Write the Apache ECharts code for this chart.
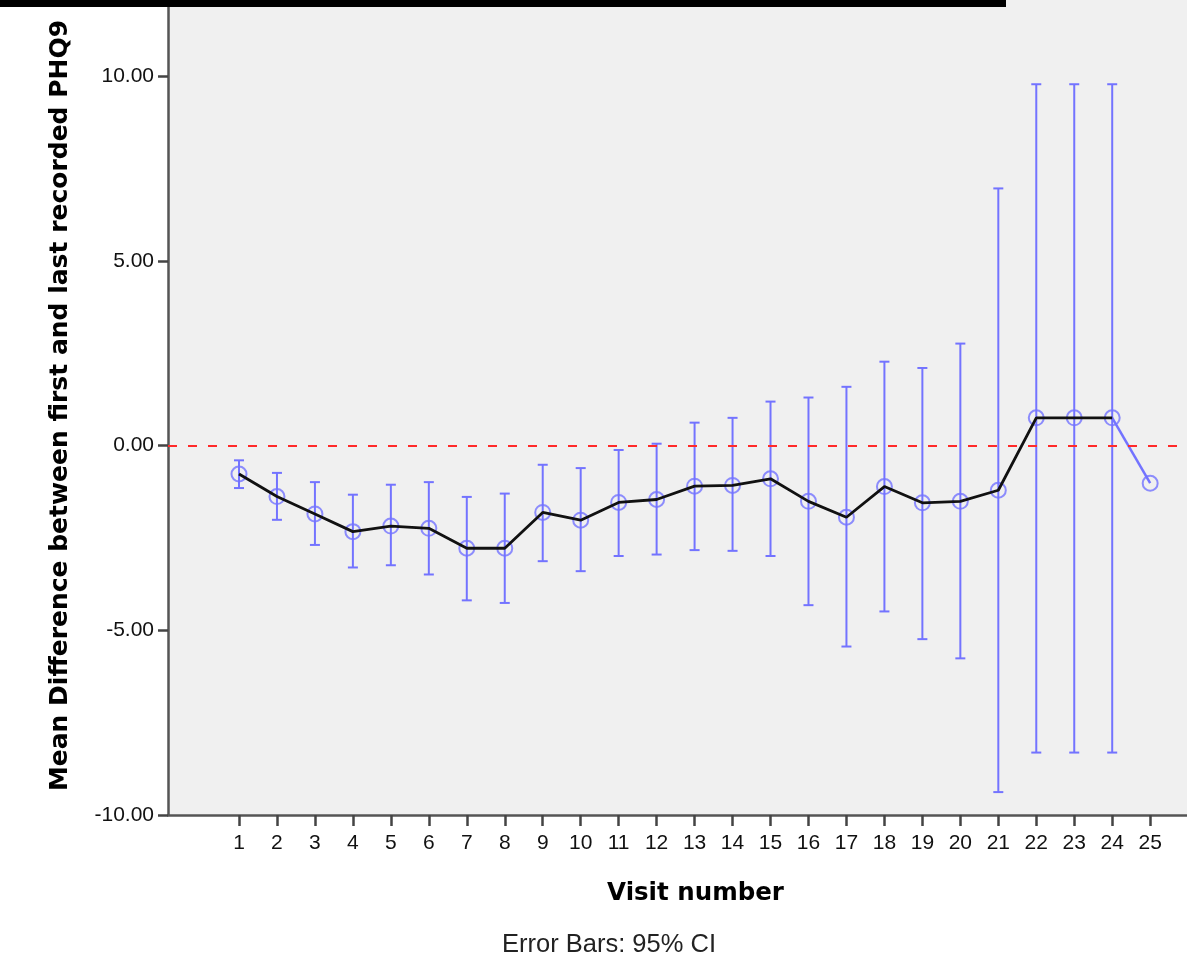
<!DOCTYPE html>
<html>
<head>
<meta charset="utf-8">
<script src="https://cdn.jsdelivr.net/npm/echarts@6/dist/echarts.min.js"></script>
<style>html,body{margin:0;padding:0;background:#fff}#c{width:1187px;height:965px}</style>
</head>
<body>
<div id="c"></div>
<script>
var visits = [1,2,3,4,5,6,7,8,9,10,11,12,13,14,15,16,17,18,19,20,21,22,23,24,25];
var means = [-0.77,-1.38,-1.85,-2.33,-2.18,-2.24,-2.78,-2.78,-1.81,-2.02,-1.54,-1.46,-1.10,-1.08,-0.90,-1.51,-1.94,-1.11,-1.55,-1.51,-1.21,0.75,0.75,0.75,-1.02];
var upper = [-0.40,-0.74,-0.99,-1.33,-1.06,-0.99,-1.39,-1.30,-0.52,-0.61,-0.12,0.05,0.62,0.75,1.19,1.30,1.59,2.27,2.10,2.76,6.96,9.78,9.78,9.78,null];
var lower = [-1.15,-2.01,-2.69,-3.30,-3.24,-3.49,-4.19,-4.26,-3.13,-3.40,-2.99,-2.95,-2.83,-2.85,-2.99,-4.32,-5.44,-4.49,-5.24,-5.76,-9.38,-8.31,-8.31,-8.31,null];
var yTicks = [-10,-5,0,5,10];
var xTitle = 'Visit number';
var yTitle = 'Mean Difference between first and last recorded PHQ9';
var footnote = 'Error Bars: 95% CI';

var blue = '#7373ff';
var errData = [];
var blackLine = [];
var blueLine = [];
var pts = [];
for (var i = 0; i < visits.length; i++) {
  if (upper[i] != null) errData.push([visits[i], lower[i], upper[i]]);
  if (upper[i] != null) blackLine.push([visits[i], means[i]]);
  pts.push([visits[i], means[i]]);
}
blueLine.push([visits[23], means[23]], [visits[24], means[24]]);

var chart = echarts.init(document.getElementById('c'), null, {renderer: 'canvas'});
chart.setOption({
  animation: false,
  backgroundColor: '#ffffff',
  grid: {left: 168, right: 0, top: 0, bottom: 150, show: true, backgroundColor: '#f0f0f0', borderWidth: 0},
  xAxis: {
    type: 'value', min: -0.87, max: 25.97,
    name: xTitle, nameLocation: 'middle', nameGap: 66,
    nameTextStyle: {fontFamily: 'DejaVu Sans', fontWeight: 'bold', fontSize: 24.5, color: '#000', padding: [0, 0, 0, 36]},
    axisLine: {show: true, onZero: false, lineStyle: {color: '#555', width: 2.5}},
    axisTick: {show: true, customValues: visits, length: 11, lineStyle: {color: '#444', width: 2.5}},
    axisLabel: {customValues: visits, margin: 18, fontFamily: 'Liberation Sans', fontSize: 21, color: '#111'},
    splitLine: {show: false}
  },
  yAxis: {
    type: 'value', min: -10, max: 12.06,
    name: yTitle, nameLocation: 'middle', nameGap: 95, nameRotate: 90,
    nameTextStyle: {fontFamily: 'DejaVu Sans', fontWeight: 'bold', fontSize: 25, color: '#000', padding: [0, 0, 0, 4]},
    axisLine: {show: true, onZero: false, lineStyle: {color: '#555', width: 2.5}},
    axisTick: {show: true, customValues: yTicks, length: 10, lineStyle: {color: '#444', width: 2.5}},
    axisLabel: {customValues: yTicks, margin: 14, fontFamily: 'Liberation Sans', fontSize: 21, color: '#111',
      formatter: function (v) { return v.toFixed(2); }},
    splitLine: {show: false}
  },
  graphic: [
    {type: 'rect', left: 0, top: 0, shape: {width: 1006, height: 7}, style: {fill: '#000'}, z: 100},
    {type: 'text', x: 609, y: 945, style: {text: footnote, font: '25.5px "Liberation Sans"', fill: '#222', textAlign: 'center', textVerticalAlign: 'middle'}}
  ],
  series: [
    {
      type: 'custom', data: errData, z: 2,
      encode: {x: 0, y: [1, 2]},
      renderItem: function (params, api) {
        var x = api.value(0);
        var lo = api.coord([x, api.value(1)]);
        var hi = api.coord([x, api.value(2)]);
        var hw = 5;
        var st = {stroke: blue, lineWidth: 2};
        return {type: 'group', children: [
          {type: 'line', shape: {x1: lo[0], y1: lo[1], x2: hi[0], y2: hi[1]}, style: st},
          {type: 'line', shape: {x1: lo[0] - hw, y1: lo[1], x2: lo[0] + hw, y2: lo[1]}, style: st},
          {type: 'line', shape: {x1: hi[0] - hw, y1: hi[1], x2: hi[0] + hw, y2: hi[1]}, style: st}
        ]};
      }
    },
    {
      type: 'line', data: [], z: 1,
      markLine: {silent: true, symbol: 'none', label: {show: false},
        lineStyle: {color: '#ff2a2a', type: [9, 11], width: 2},
        data: [{yAxis: 0}]}
    },
    {
      type: 'scatter', data: pts, z: 3, symbol: 'circle', symbolSize: 15,
      itemStyle: {color: 'rgba(0,0,0,0)', borderColor: blue, borderWidth: 2}
    },
    {
      type: 'line', data: blueLine, z: 4, showSymbol: false,
      lineStyle: {color: blue, width: 2.5}
    },
    {
      type: 'line', data: blackLine, z: 5, showSymbol: false,
      lineStyle: {color: '#111', width: 2.8}
    }
  ]
});
</script>
</body>
</html>
